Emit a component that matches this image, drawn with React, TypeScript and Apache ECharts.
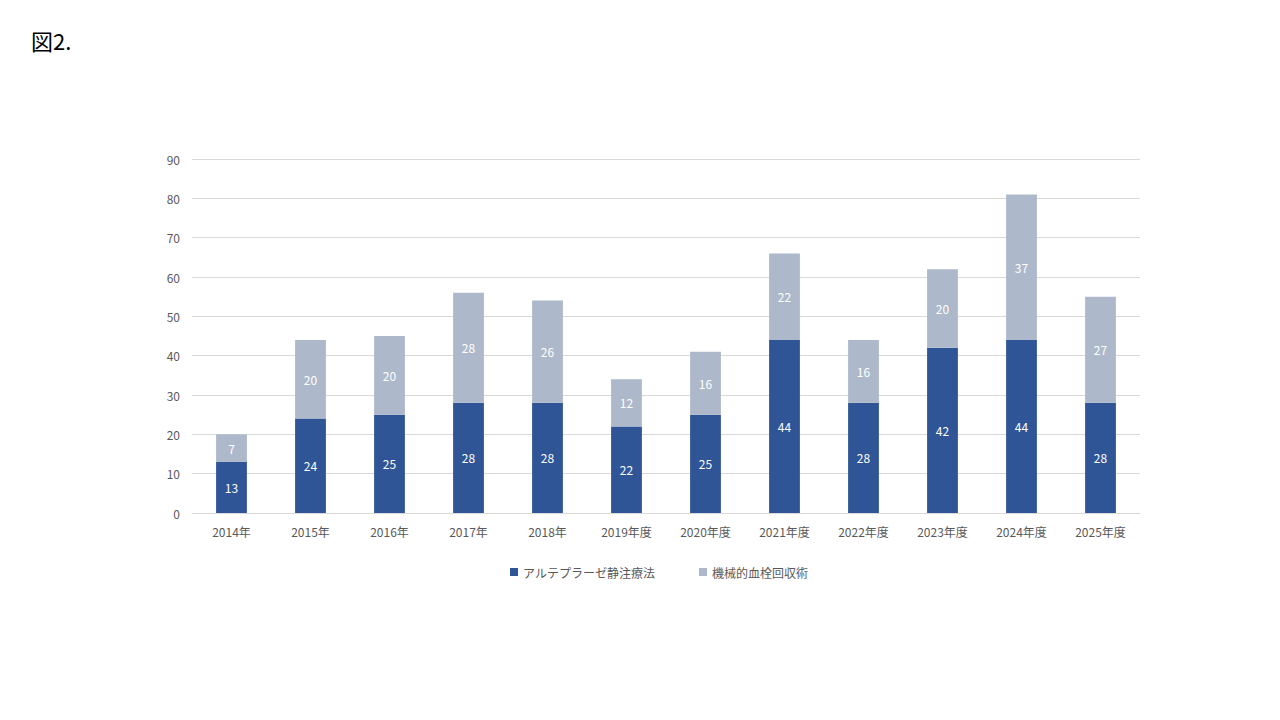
import React, { useEffect, useRef } from "react";
import * as echarts from "echarts";

const categories = ["2014年", "2015年", "2016年", "2017年", "2018年", "2019年度", "2020年度", "2021年度", "2022年度", "2023年度", "2024年度", "2025年度"];
const alteplase = [13, 24, 25, 28, 28, 22, 25, 44, 28, 42, 44, 28];
const thrombectomy = [7, 20, 20, 28, 26, 12, 16, 22, 16, 20, 37, 27];
const seriesNames = ["アルテプラーゼ静注療法", "機械的血栓回収術"];

const FONT = "'Noto Sans CJK JP', 'Noto Sans', sans-serif";

export default function App() {
  const ref = useRef<HTMLDivElement>(null);
  useEffect(() => {
    const chart = echarts.init(ref.current!, null, { renderer: "svg" });
    chart.setOption({
      animation: false,
      backgroundColor: "#ffffff",
      textStyle: { fontFamily: FONT },
      title: {
        text: "図2.",
        left: 26,
        top: 24,
        textStyle: { fontFamily: FONT, fontSize: 22, fontWeight: "normal", color: "#000000" },
      },
      legend: {
        data: seriesNames,
        bottom: 137,
        left: 505,
        itemWidth: 8,
        itemHeight: 8,
        itemGap: 44,
        icon: "rect",
        textStyle: { fontFamily: FONT, fontSize: 12, color: "#595959" },
      },
      grid: { left: 192, right: 140, top: 159, bottom: 207, containLabel: false },
      xAxis: {
        type: "category",
        data: categories,
        axisLine: { lineStyle: { color: "#D9D9D9" } },
        axisTick: { show: false },
        axisLabel: { color: "#595959", fontSize: 12, margin: 12, fontFamily: FONT },
      },
      yAxis: {
        type: "value",
        min: 0,
        max: 90,
        interval: 10,
        axisLine: { show: false },
        axisTick: { show: false },
        axisLabel: { color: "#595959", fontSize: 12, margin: 12, fontFamily: FONT },
        splitLine: { lineStyle: { color: "#D9D9D9" } },
      },
      series: [
        {
          name: seriesNames[0],
          type: "bar",
          stack: "total",
          data: alteplase,
          barWidth: "39%",
          itemStyle: { color: "#2F5597" },
          label: { show: true, position: "inside", color: "#ffffff", fontSize: 12, fontFamily: FONT },
        },
        {
          name: seriesNames[1],
          type: "bar",
          stack: "total",
          data: thrombectomy,
          barWidth: "39%",
          itemStyle: { color: "#ADB9CA" },
          label: { show: true, position: "inside", color: "#ffffff", fontSize: 12, fontFamily: FONT },
        },
      ],
    });
    return () => chart.dispose();
  }, []);
  return <div ref={ref} style={{ width: 1280, height: 720, position: "absolute", left: 0, top: 0 }} />;
}
